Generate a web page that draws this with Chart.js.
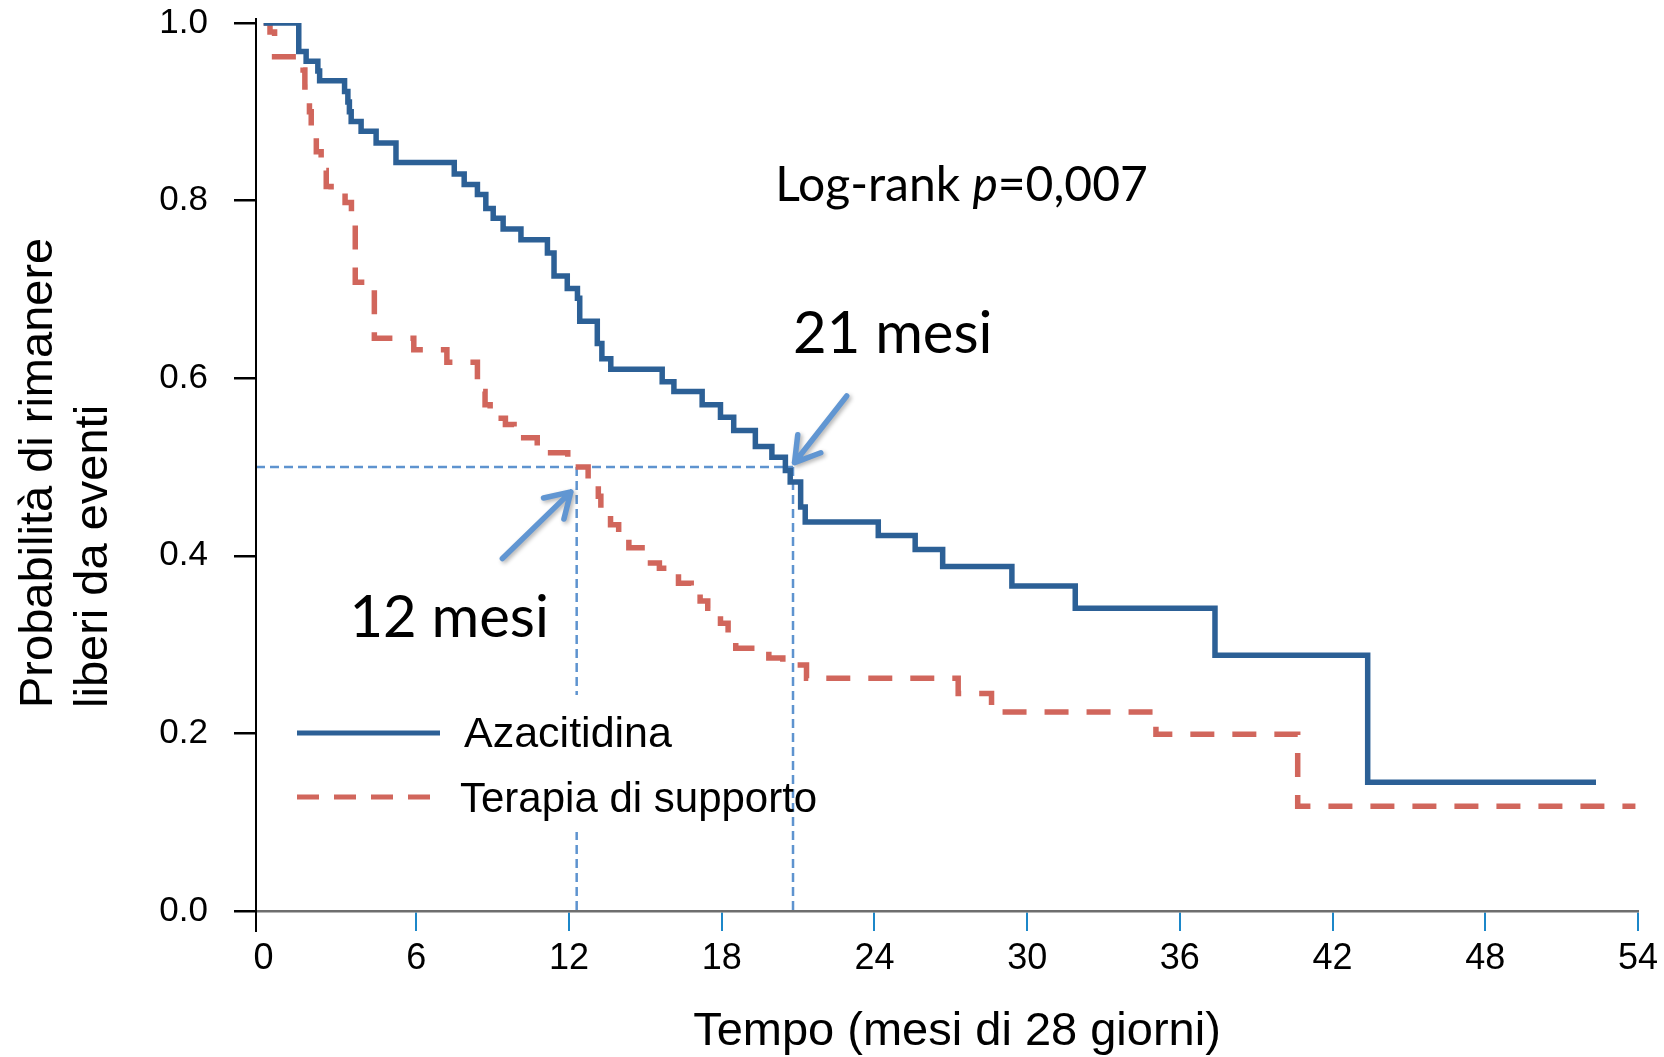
<!DOCTYPE html>
<html lang="it">
<head>
<meta charset="utf-8">
<title>Sopravvivenza libera da eventi</title>
<script src="https://cdn.jsdelivr.net/npm/chart.js@4.4.1/dist/chart.umd.min.js"></script>
<style>
  html, body { margin: 0; padding: 0; background: #fff; }
  #wrap { width: 1664px; height: 1057px; }
</style>
</head>
<body>
<div id="wrap"><canvas id="km" width="1664" height="1057"></canvas></div>
<script>
// axis ticks: time in 28-day months, event-free probability
const xTicks = [0, 6, 12, 18, 24, 30, 36, 42, 48, 54];
const yTicks = [0, 0.2, 0.4, 0.6, 0.8, 1.0];

// Kaplan-Meier steps: event time (months) and survival after the event
const azaTimes = [0, 1.38, 1.67, 2.13, 2.2, 3.18, 3.31, 3.37, 3.44, 3.83, 4.42, 5.2, 7.49, 7.88, 8.4,
  8.73, 9.02, 9.41, 10.11, 11.15, 11.41, 11.93, 12.33, 12.42, 13.11, 13.29, 13.64, 15.66, 16.12,
  17.23, 17.95, 18.47, 19.32, 19.97, 20.5, 20.69, 21.1, 21.28, 24.15, 25.6, 26.68, 29.4, 31.89,
  37.38, 43.38, 52.35];
const azaSurv = [1, 0.968, 0.957, 0.946, 0.935, 0.923, 0.911, 0.9, 0.889, 0.878, 0.865, 0.843, 0.83,
  0.818, 0.807, 0.791, 0.78, 0.768, 0.756, 0.741, 0.715, 0.701, 0.69, 0.664, 0.639, 0.622, 0.61,
  0.596, 0.585, 0.57, 0.556, 0.541, 0.523, 0.511, 0.496, 0.483, 0.455, 0.438, 0.423, 0.407, 0.388,
  0.366, 0.341, 0.288, 0.145, 0.145];

const supTimes = [0, 0.25, 0.43, 1.55, 1.62, 1.8, 1.87, 2.07, 2.26, 2.46, 2.65, 3.2, 3.45, 3.6, 4.2,
  4.35, 5.9, 7.2, 8.4, 8.7, 8.9, 9.5, 9.84, 10.75, 11.95, 12.75, 13.15, 13.25, 13.63, 13.95, 14.35,
  15.0, 15.55, 16.3, 16.8, 17.15, 17.45, 17.95, 18.25, 18.55, 19.85, 20.4, 21.33, 27.29, 28.6,
  35.06, 40.63, 53.9];
const supSurv = [1, 0.99, 0.962, 0.947, 0.928, 0.9, 0.878, 0.855, 0.834, 0.816, 0.81, 0.798, 0.786,
  0.708, 0.7, 0.645, 0.632, 0.618, 0.585, 0.57, 0.555, 0.548, 0.533, 0.516, 0.5, 0.484, 0.467,
  0.452, 0.435, 0.423, 0.409, 0.392, 0.386, 0.369, 0.36, 0.349, 0.341, 0.324, 0.313, 0.296, 0.285,
  0.277, 0.262, 0.245, 0.224, 0.199, 0.118, 0.118];

// medians (months): supportive care, azacitidine
const medians = [12.3, 20.8];
const medianLevel = 0.5;

const seriesNames = ["Azacitidina", "Terapia di supporto"];

const X_MIN = -0.3;
const BLUE = "#2c6096";
const RED = "#d1665c";
const REF = "#5e93cf";
const ARROW = "#6196d2";
const ARIAL = '"Liberation Sans", Arial, sans-serif';
const NOTE_FONT = 'Lato, "Open Sans", sans-serif';

const toPoints = (ts, ss) => ts.map((t, i) => ({ x: t, y: ss[i] }));

/* -----------------------------------------------
   Axis titles, notes, arrows and the legend box
------------------------------------------------ */
const decorations = {
  id: "decorations",
  afterDatasetsDraw(chart) {
    const { ctx, chartArea: area, scales: { x, y } } = chart;
    ctx.save();

    // y axis line runs a bit past both ends
    ctx.strokeStyle = "#000";
    ctx.lineWidth = 2;
    ctx.beginPath();
    ctx.moveTo(area.left, area.top - 5);
    ctx.lineTo(area.left, area.bottom + 21);
    ctx.stroke();

    // arrows pointing at the medians
    const arrows = [
      { from: [9.38, 0.397], to: [12.07, 0.472] },
      { from: [22.91, 0.58], to: [20.86, 0.505] }
    ];
    ctx.strokeStyle = ARROW;
    ctx.lineWidth = 5.5;
    ctx.lineCap = "round";
    ctx.lineJoin = "round";
    ctx.shadowColor = "rgba(0,0,0,0.3)";
    ctx.shadowBlur = 4;
    ctx.shadowOffsetX = 2;
    ctx.shadowOffsetY = 2;
    arrows.forEach(a => {
      const x0 = x.getPixelForValue(a.from[0]), y0 = y.getPixelForValue(a.from[1]);
      const x1 = x.getPixelForValue(a.to[0]), y1 = y.getPixelForValue(a.to[1]);
      const ang = Math.atan2(y1 - y0, x1 - x0);
      const head = 28, spread = 0.55;
      ctx.beginPath();
      ctx.moveTo(x0, y0);
      ctx.lineTo(x1, y1);
      ctx.moveTo(x1 - head * Math.cos(ang - spread), y1 - head * Math.sin(ang - spread));
      ctx.lineTo(x1, y1);
      ctx.lineTo(x1 - head * Math.cos(ang + spread), y1 - head * Math.sin(ang + spread));
      ctx.stroke();
    });
    ctx.shadowColor = "transparent";
    ctx.lineCap = "butt";

    // legend box (white background hides the reference line behind it)
    ctx.fillStyle = "#fff";
    ctx.fillRect(280, 695, 480, 137);
    ctx.lineWidth = 5;
    ctx.strokeStyle = BLUE;
    ctx.beginPath();
    ctx.moveTo(297, 733);
    ctx.lineTo(440, 733);
    ctx.stroke();
    ctx.strokeStyle = RED;
    ctx.setLineDash([22, 15]);
    ctx.beginPath();
    ctx.moveTo(297, 797);
    ctx.lineTo(431, 797);
    ctx.stroke();
    ctx.setLineDash([]);

    ctx.fillStyle = "#000";
    ctx.textBaseline = "alphabetic";
    ctx.textAlign = "left";
    ctx.font = `43px ${ARIAL}`;
    ctx.fillText(seriesNames[0], 464, 747);
    ctx.font = `42px ${ARIAL}`;
    ctx.fillText(seriesNames[1], 460, 812);

    // log-rank test note, p in italics
    let tx = x.getPixelForValue(20.1);
    const ty = y.getPixelForValue(0.8);
    const parts = [["Log-rank ", ""], ["p", "italic "], ["=0,007", ""]];
    parts.forEach(([s, style]) => {
      ctx.font = `${style}48px ${NOTE_FONT}`;
      ctx.fillText(s, tx, ty);
      tx += ctx.measureText(s).width;
    });

    // median labels
    ctx.font = `58px ${NOTE_FONT}`;
    ctx.fillText("21 mesi", x.getPixelForValue(20.8), y.getPixelForValue(0.628));
    ctx.fillText("12 mesi", x.getPixelForValue(3.37), y.getPixelForValue(0.309));

    // axis titles
    ctx.font = `47px ${ARIAL}`;
    ctx.textAlign = "center";
    ctx.fillText("Tempo (mesi di 28 giorni)", 957, 1045);

    ctx.textAlign = "left";
    ["Probabilità di rimanere", "liberi da eventi"].forEach((line, i) => {
      ctx.save();
      ctx.translate(52 + i * 55, 708);
      ctx.rotate(-Math.PI / 2);
      ctx.fillText(line, 0, 0);
      ctx.restore();
    });

    ctx.restore();
  }
};

const refStyle = {
  borderColor: REF,
  borderWidth: 2.5,
  borderDash: [9, 5],
  pointRadius: 0,
  fill: false,
  order: 3
};

new Chart(document.getElementById("km"), {
  type: "line",
  data: {
    datasets: [
      {
        label: seriesNames[0],
        data: toPoints(azaTimes, azaSurv),
        borderColor: BLUE,
        borderWidth: 5.5,
        stepped: "before",
        pointRadius: 0,
        fill: false,
        order: 1
      },
      {
        label: seriesNames[1],
        data: toPoints(supTimes, supSurv),
        borderColor: RED,
        borderWidth: 5.5,
        borderDash: [24, 18],
        stepped: "before",
        pointRadius: 0,
        fill: false,
        order: 2
      },
      {
        ...refStyle,
        label: "mediana",
        data: [{ x: X_MIN, y: medianLevel }, { x: medians[1], y: medianLevel }]
      },
      ...medians.map(m => ({
        ...refStyle,
        label: "mediana " + m,
        data: [{ x: m, y: medianLevel }, { x: m, y: 0 }]
      }))
    ]
  },
  options: {
    responsive: false,
    animation: false,
    devicePixelRatio: 1,
    layout: { padding: { left: 0, top: 0, right: 24, bottom: 0 } },
    plugins: {
      legend: { display: false },
      tooltip: { enabled: false }
    },
    scales: {
      x: {
        type: "linear",
        min: X_MIN,
        max: 54,
        afterFit: s => { s.height = 146; },
        afterBuildTicks: s => { s.ticks = xTicks.map(v => ({ value: v })); },
        ticks: {
          font: { family: ARIAL, size: 36 },
          color: "#000",
          padding: 6,
          maxRotation: 0,
          autoSkip: false,
          callback: v => String(v)
        },
        grid: {
          drawOnChartArea: false,
          tickLength: 20,
          lineWidth: 2,
          color: c => (c.tick && c.tick.value === 0 ? "rgba(0,0,0,0)" : "#1c87c9")
        },
        border: { color: "#6e6e6e", width: 2.5 }
      },
      y: {
        min: 0,
        max: 1,
        afterFit: s => {
          s.width = 256;
          // keep the top of the plot close to the canvas edge
          s.paddingTop = 23;
          s.paddingBottom = 0;
        },
        afterBuildTicks: s => { s.ticks = yTicks.map(v => ({ value: v })); },
        ticks: {
          font: { family: ARIAL, size: 35 },
          color: "#000",
          padding: 26,
          callback: v => v.toFixed(1)
        },
        grid: {
          drawOnChartArea: false,
          tickLength: 22,
          lineWidth: 2.5,
          color: "#000"
        },
        border: { color: "#000", width: 2 }
      }
    }
  },
  plugins: [decorations]
});
</script>
</body>
</html>
